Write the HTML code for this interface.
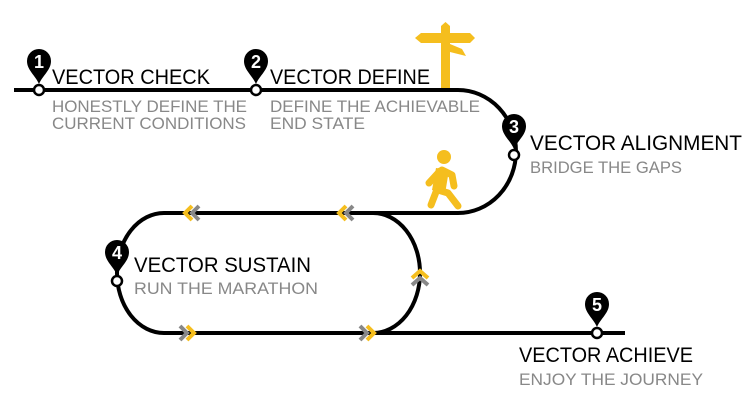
<!DOCTYPE html>
<html><head><style>html,body{margin:0;padding:0;background:#fff}svg{display:block}</style></head><body>
<svg width="748" height="412" viewBox="0 0 748 412" xmlns="http://www.w3.org/2000/svg" font-family="Liberation Sans, sans-serif">
<defs>
<g id="pin"><path d="M0,0 C-4,-9 -12,-14 -12,-23 A12,12 0 1 1 12,-23 C12,-14 4,-9 0,0Z" fill="#000"/></g>
</defs>
<g fill="none" stroke="#000" stroke-width="4">
<path d="M14,90 H458 A58,61.5 0 0 1 458,213 H164 A47,60 0 0 0 164,333 H625"/>
<path d="M373,213 A47,60 0 0 1 373,333"/>
</g>
<g fill="none" stroke-width="4">
<path d="M199,206 l-7,7 l7,7" stroke="#888"/><path d="M192,206 l-7,7 l7,7" stroke="#f5be1e"/>
<path d="M353,206 l-7,7 l7,7" stroke="#888"/><path d="M346,206 l-7,7 l7,7" stroke="#f5be1e"/>
<path d="M180,326 l7,7 l-7,7" stroke="#888"/><path d="M187,326 l7,7 l-7,7" stroke="#f5be1e"/>
<path d="M360,326 l7,7 l-7,7" stroke="#888"/><path d="M367,326 l7,7 l-7,7" stroke="#f5be1e"/>
<path d="M412,285 l8,-7 l8,7" stroke="#888"/><path d="M412,278 l8,-7 l8,7" stroke="#f5be1e"/>
</g>
<g fill="#f5be1e">
<path d="M441,88 V26 L445.5,22 L450,26 V88Z"/>
<path d="M441,33 H421 L415,38 L421,43 H441Z"/>
<path d="M450,33 H470 L475,38 L470,43 H450Z"/>
<path d="M450,44 L462,49 L466,56 L450,52Z"/>
</g>
<g fill="none" stroke="#f5be1e" stroke-width="7" stroke-linecap="round" stroke-linejoin="round">
<path d="M442,172 L436,192 L431,205"/>
<path d="M438,190 L448,193 L458,206"/>
<path d="M440,171 L429,183"/>
<path d="M442,170 L452,175 L454,186"/>
</g>
<g fill="#f5be1e"><circle cx="444" cy="157" r="7"/><path d="M436,168 L449,170 L445,194 L432,190Z"/></g>
<g stroke="#000" stroke-width="2.5" fill="#fff">
<circle cx="39" cy="90" r="5"/><circle cx="256" cy="90" r="5"/><circle cx="514" cy="155" r="5"/><circle cx="117" cy="281" r="5"/><circle cx="597" cy="333" r="5"/>
</g>
<use href="#pin" x="39" y="84"/><use href="#pin" x="256" y="84"/><use href="#pin" x="514" y="149"/><use href="#pin" x="117" y="275"/><use href="#pin" x="597" y="327"/>
<g fill="#fff" font-size="18" font-weight="bold" text-anchor="middle">
<text x="39" y="68">1</text><text x="256" y="68">2</text><text x="514" y="133">3</text><text x="117" y="259">4</text><text x="597" y="311">5</text>
</g>
<g fill="#000" font-size="21">
<text x="52" y="84" textLength="158" lengthAdjust="spacingAndGlyphs">VECTOR CHECK</text>
<text x="270" y="84" textLength="160" lengthAdjust="spacingAndGlyphs">VECTOR DEFINE</text>
<text x="530" y="150" textLength="212" lengthAdjust="spacingAndGlyphs">VECTOR ALIGNMENT</text>
<text x="134" y="272" textLength="177" lengthAdjust="spacingAndGlyphs">VECTOR SUSTAIN</text>
<text x="519" y="362" textLength="174" lengthAdjust="spacingAndGlyphs">VECTOR ACHIEVE</text>
</g>
<g fill="#888" font-size="17">
<text x="52" y="112" textLength="195" lengthAdjust="spacingAndGlyphs">HONESTLY DEFINE THE</text>
<text x="52" y="129" textLength="194" lengthAdjust="spacingAndGlyphs">CURRENT CONDITIONS</text>
<text x="270" y="112" textLength="210" lengthAdjust="spacingAndGlyphs">DEFINE THE ACHIEVABLE</text>
<text x="270" y="129" textLength="95" lengthAdjust="spacingAndGlyphs">END STATE</text>
<text x="530" y="173" textLength="152" lengthAdjust="spacingAndGlyphs">BRIDGE THE GAPS</text>
<text x="134" y="294" textLength="184" lengthAdjust="spacingAndGlyphs">RUN THE MARATHON</text>
<text x="519" y="385" textLength="184" lengthAdjust="spacingAndGlyphs">ENJOY THE JOURNEY</text>
</g>
</svg>
</body></html>
